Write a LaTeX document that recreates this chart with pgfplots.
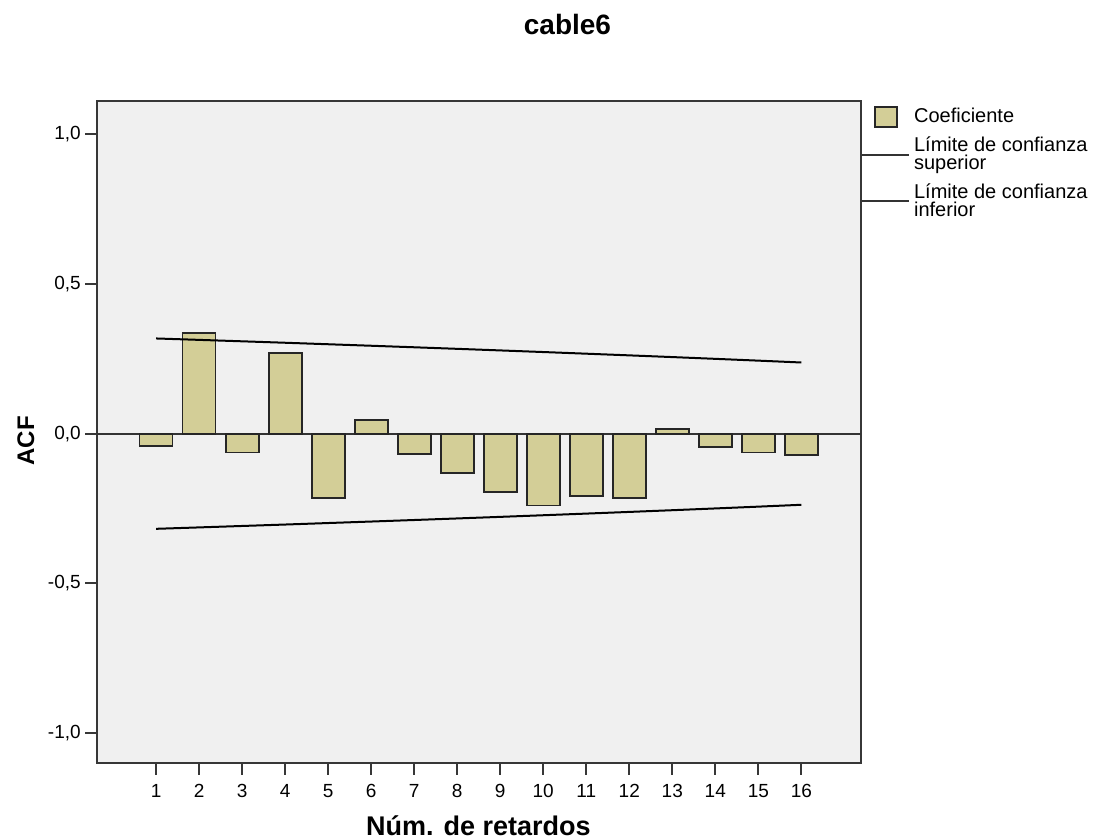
\documentclass[border=0pt]{standalone}
\usepackage{fontspec}
\setmainfont{Liberation Sans}
\usepackage{pgfplots}
\pgfplotsset{compat=1.18}
\definecolor{bggray}{RGB}{240,240,240}
\definecolor{barfill}{RGB}{211,206,151}
\definecolor{axgray}{RGB}{55,55,55}
\begin{document}
\begin{tikzpicture}
\useasboundingbox (0pt,0pt) rectangle (549pt,420pt);
\begin{axis}[
  at={(48.35pt,38.35pt)}, anchor=south west,
  scale only axis, width=382pt, height=331.15pt,
  xmin=-0.38, xmax=17.38, ymin=-1.10, ymax=1.11,
  axis background/.style={fill=bggray},
  axis line style={axgray, line width=1pt},
  xtick={1,...,16}, ytick={-1,-0.5,0,0.5,1},
  yticklabels={{-1,0},{-0,5},{0,0},{0,5},{1,0}},
  xtick pos=bottom, ytick pos=left, tick align=outside,
  major tick length=5.8pt,
  tick style={axgray, line width=1pt},
  /pgf/number format/assume math mode=true,
  tick label style={font=\fontsize{9.5}{11}\selectfont},
  xticklabel style={inner sep=1pt, yshift=-3.5pt},
  yticklabel style={inner sep=1pt, xshift=-1pt},
  extra y ticks={0}, extra y tick labels={},
  extra y tick style={grid=major, major grid style={black!80, line width=1pt}, major tick length=0pt},
  every axis title shift=0pt,
  title={cable6},
  title style={font=\fontsize{14}{16}\selectfont\bfseries, at={(rel axis cs:0.6162,1.0997)}, anchor=base, yshift=0pt},
  xlabel={Núm. de retardos},
  xlabel style={font=\fontsize{13.5}{15}\selectfont\bfseries, at={(rel axis cs:0.4995,-0.1083)}, anchor=base},
  ylabel={ACF},
  ylabel style={font=\fontsize{12}{14}\selectfont\bfseries, at={(rel axis cs:-0.0928,0.4869)}, anchor=center},
  legend style={at={(rel axis cs:1,0.9955)}, anchor=north west, draw=none, fill=none,
    inner sep=0pt, row sep=1.5pt, column sep=0pt,
    font=\fontsize{10}{9}\selectfont, cells={anchor=west, align=left}},
  legend cell align=left,
]
\addplot[ybar, bar width=16.5pt, fill=barfill, draw=black!85, line width=0.9pt,
  legend image code/.code={\path[draw=none, fill=none] (0pt,0pt) -- (23.5pt,0pt);
    \draw[fill=barfill, draw=black!85, line width=0.9pt] (6.5pt,-5pt) rectangle (17.5pt,5pt);}]
  coordinates {(1,-0.040) (2,0.335) (3,-0.063) (4,0.270) (5,-0.215) (6,0.046) (7,-0.069) (8,-0.132)
               (9,-0.195) (10,-0.240) (11,-0.208) (12,-0.215) (13,0.016) (14,-0.044) (15,-0.063) (16,-0.070)};
\addlegendentry{Coeficiente}
\addplot[black, line width=1pt, mark=none,
  legend image code/.code={\draw[black!80, line width=1pt] (0pt,0pt) -- (23.5pt,0pt);}]
  coordinates {(1,0.3176) (2,0.3129) (3,0.3081) (4,0.3033) (5,0.2983) (6,0.2933) (7,0.2882) (8,0.2830)
               (9,0.2777) (10,0.2723) (11,0.2668) (12,0.2612) (13,0.2555) (14,0.2496) (15,0.2436) (16,0.2374)};
\addlegendentry{Límite de confianza\\superior}
\addplot[black, line width=1pt, mark=none,
  legend image code/.code={\draw[black!80, line width=1pt] (0pt,0pt) -- (23.5pt,0pt);}]
  coordinates {(1,-0.3176) (2,-0.3129) (3,-0.3081) (4,-0.3033) (5,-0.2983) (6,-0.2933) (7,-0.2882) (8,-0.2830)
               (9,-0.2777) (10,-0.2723) (11,-0.2668) (12,-0.2612) (13,-0.2555) (14,-0.2496) (15,-0.2436) (16,-0.2374)};
\addlegendentry{Límite de confianza\\inferior}
\end{axis}
\end{tikzpicture}
\end{document}
